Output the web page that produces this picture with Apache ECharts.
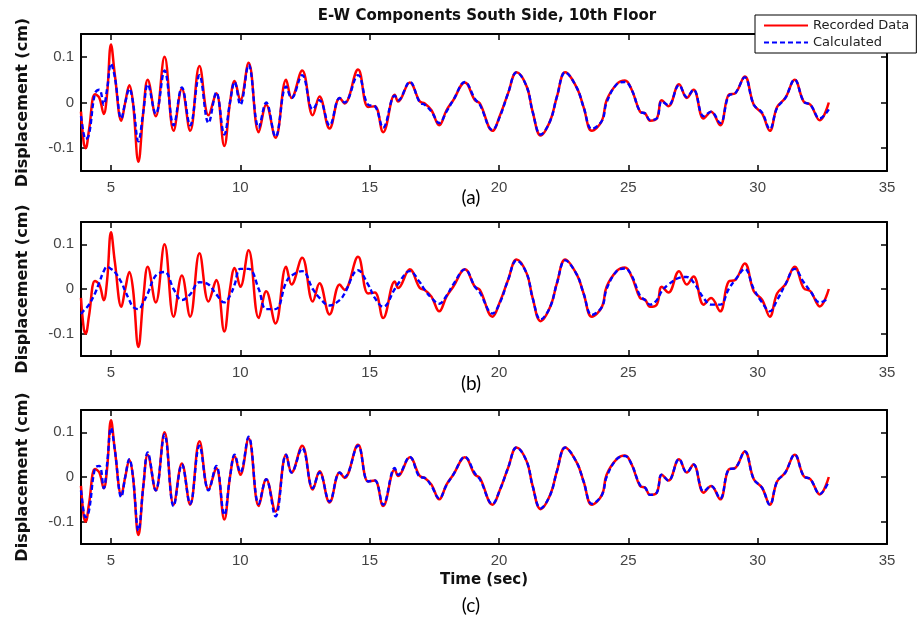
<!DOCTYPE html>
<html><head><meta charset="utf-8">
<script src="https://cdn.jsdelivr.net/npm/echarts@6/dist/echarts.min.js"></script>
<style>html,body{margin:0;background:#fff}#c{width:919px;height:621px}</style>
</head><body><div id="c"></div>
<script>
const timeSec = [
 3.84,3.95,4.02,4.15,4.38,4.55,4.72,4.85,5.0,5.15,
 5.4,5.55,5.71,5.85,6.06,6.25,6.42,6.73,7.07,7.42,
 7.74,8.06,8.42,8.77,9.07,9.38,9.6,9.78,10.0,10.32,
 10.71,11.0,11.36,11.77,11.98,12.39,12.8,13.06,13.45,13.84,
 14.03,14.55,14.94,15.2,15.52,15.97,16.1,16.55,16.94,17.13,
 17.39,17.69,17.97,18.23,18.68,19.07,19.26,19.75,20.04,20.35,
 20.68,21.07,21.3,21.61,21.98,22.24,22.56,23.01,23.27,23.59,
 23.98,24.16,24.55,24.87,25.13,25.45,25.65,25.84,26.1,26.29,
 26.55,26.96,27.26,27.52,27.91,28.2,28.55,28.88,29.13,29.5,
 29.85,30.17,30.47,30.75,31.07,31.43,31.78,32.04,32.4,32.75];
const recorded = [
 -0.02,-0.09,-0.10,-0.06,0.018,0.01,-0.025,0.02,0.127,0.06,
 -0.04,0.0,0.038,0.0,-0.13,-0.02,0.05,-0.03,0.10,-0.062,
 0.03,-0.062,0.08,-0.028,0.02,-0.095,0.0,0.047,0.005,0.087,
 -0.065,-0.005,-0.077,0.05,0.01,0.07,-0.028,0.013,-0.057,0.01,
 -0.002,0.072,-0.01,-0.008,-0.065,0.017,0.002,0.044,0.002,-0.002,
 -0.017,-0.05,-0.017,0.005,0.044,0.005,-0.002,-0.062,-0.028,0.02,
 0.066,0.035,-0.02,-0.072,-0.04,0.013,0.066,0.032,-0.01,-0.062,
 -0.04,0.005,0.04,0.048,0.028,-0.02,-0.024,-0.04,-0.035,0.005,
 -0.008,0.04,0.01,0.028,-0.035,-0.02,-0.05,0.017,0.02,0.057,
 -0.005,-0.024,-0.062,-0.01,0.01,0.05,0.002,-0.005,-0.039,0.0];
const calcA = [
 -0.03,-0.07,-0.08,-0.07,0.02,0.028,-0.005,0.03,0.085,0.055,
 -0.035,0.0,0.03,0.0,-0.085,-0.02,0.04,-0.025,0.07,-0.05,
 0.033,-0.05,0.06,-0.045,0.022,-0.07,0.0,0.045,-0.005,0.082,
 -0.055,0.0,-0.075,0.035,0.01,0.06,-0.015,0.005,-0.05,0.01,
 0.0,0.06,-0.005,-0.008,-0.055,0.015,0.005,0.045,0.0,-0.005,
 -0.02,-0.045,-0.02,0.005,0.045,0.008,-0.005,-0.06,-0.03,0.02,
 0.066,0.035,-0.02,-0.07,-0.04,0.013,0.066,0.032,-0.01,-0.058,
 -0.04,0.0,0.04,0.045,0.028,-0.02,-0.024,-0.038,-0.035,0.003,
 -0.006,0.038,0.012,0.028,-0.03,-0.02,-0.045,0.015,0.02,0.055,
 -0.005,-0.022,-0.058,-0.012,0.01,0.05,0.002,-0.005,-0.035,-0.015];
const calcB = [
 -0.056,-0.048,-0.044,-0.035,-0.01,0.015,0.04,0.05,0.045,0.038,
 0.015,-0.005,-0.025,-0.04,-0.045,-0.03,-0.01,0.03,0.038,0.0,
 -0.025,-0.012,0.015,0.01,-0.012,-0.03,-0.015,0.01,0.045,0.045,
 0.0,-0.045,-0.045,0.015,0.03,0.04,0.0,-0.02,-0.037,-0.025,
 -0.01,0.042,0.01,-0.02,-0.04,0.0,0.012,0.04,0.015,-0.002,
 -0.02,-0.033,-0.015,0.01,0.044,0.005,-0.008,-0.055,-0.03,0.02,
 0.064,0.035,-0.02,-0.068,-0.04,0.013,0.064,0.032,-0.01,-0.058,
 -0.04,0.0,0.04,0.046,0.03,-0.015,-0.025,-0.035,-0.025,-0.005,
 0.01,0.025,0.027,0.015,-0.02,-0.035,-0.035,0.0,0.02,0.045,
 0.0,-0.03,-0.05,-0.025,0.01,0.045,0.015,-0.005,-0.03,-0.02];
const calcC = [
 -0.03,-0.08,-0.09,-0.075,0.02,0.025,-0.025,0.03,0.11,0.06,
 -0.045,0.0,0.04,0.0,-0.12,-0.02,0.055,-0.03,0.095,-0.065,
 0.028,-0.06,0.07,-0.03,0.025,-0.085,0.0,0.05,0.01,0.09,
 -0.06,-0.005,-0.088,0.05,0.01,0.065,-0.025,0.01,-0.055,0.01,
 0.0,0.07,-0.01,-0.008,-0.062,0.02,0.005,0.045,0.0,-0.002,
 -0.02,-0.048,-0.018,0.005,0.045,0.008,-0.005,-0.06,-0.028,0.02,
 0.066,0.035,-0.02,-0.07,-0.04,0.013,0.066,0.032,-0.01,-0.06,
 -0.04,0.0,0.04,0.047,0.028,-0.018,-0.024,-0.04,-0.035,0.005,
 -0.008,0.04,0.01,0.028,-0.032,-0.02,-0.048,0.017,0.02,0.057,
 -0.005,-0.024,-0.062,-0.01,0.01,0.05,0.002,-0.005,-0.038,-0.01];
const xTicks = [5,10,15,20,25,30,35];
const yTicks = [-0.1,0,0.1];
const panelLabels = ['(a)','(b)','(c)'];
const seriesNames = ['Recorded Data','Calculated'];
const chartTitle = 'E-W Components South Side, 10th Floor';

const calcs = [calcA, calcB, calcC];
const gridBoxes = [
  {left:81, top:34, width:806, height:137},
  {left:81, top:222, width:806, height:134},
  {left:81, top:410, width:806, height:134}];
const labelTops = [183, 369, 591];
const zip = (xs, ys) => xs.map((x, k) => [x, ys[k]]);
const lineAx = {show:true, onZero:false, lineStyle:{color:'#000', width:2}};
const tickSt = {color:'#000', width:1.5};
const labSt = {color:'#444', fontSize:15, fontFamily:'Liberation Sans'};
const xNameSt = {fontWeight:'bold', fontSize:15, color:'#111', fontFamily:'DejaVu Sans'};
const yNameSt = {fontWeight:'bold', fontSize:16, color:'#111', fontFamily:'DejaVu Sans'};

const xAxis = [], yAxis = [], series = [];
gridBoxes.forEach((g, i) => {
  xAxis.push({gridIndex:i, type:'value', min:3.84, max:35, position:'bottom',
    axisLine:lineAx, splitLine:{show:false},
    axisTick:{show:true, inside:true, length:6, customValues:xTicks, lineStyle:tickSt},
    axisLabel:Object.assign({customValues:xTicks, margin:9}, labSt),
    name: i === 2 ? 'Time (sec)' : '', nameLocation:'middle', nameGap:29,
    nameTextStyle:xNameSt});
  xAxis.push({gridIndex:i, type:'value', min:3.84, max:35, position:'top',
    axisLine:lineAx, splitLine:{show:false},
    axisTick:{show:true, inside:true, length:6, customValues:xTicks, lineStyle:tickSt},
    axisLabel:{show:false}});
  yAxis.push({gridIndex:i, type:'value', min:-0.15, max:0.15, position:'left',
    axisLine:lineAx, splitLine:{show:false},
    axisTick:{show:true, inside:true, length:6, customValues:yTicks, lineStyle:tickSt},
    axisLabel:Object.assign({customValues:yTicks, margin:7, formatter:v => String(v)}, labSt),
    name:'Displacement (cm)', nameLocation:'middle', nameGap:50,
    nameTextStyle:yNameSt});
  yAxis.push({gridIndex:i, type:'value', min:-0.15, max:0.15, position:'right',
    axisLine:lineAx, splitLine:{show:false},
    axisTick:{show:true, inside:true, length:6, customValues:yTicks, lineStyle:tickSt},
    axisLabel:{show:false}});
  series.push({type:'line', name:seriesNames[0], xAxisIndex:2*i, yAxisIndex:2*i,
    data:zip(timeSec, recorded), symbol:'none', smooth:0.4, z:2,
    lineStyle:{color:'#ff0000', width:2.5}, itemStyle:{color:'#ff0000'}});
  series.push({type:'line', name:seriesNames[1], xAxisIndex:2*i, yAxisIndex:2*i,
    data:zip(timeSec, calcs[i]), symbol:'none', smooth:0.4, z:3,
    lineStyle:{color:'#0000ff', width:2.4, type:[5,3]}, itemStyle:{color:'#0000ff'}});
});

const titles = [{text:chartTitle, left:482, top:4, textAlign:'center',
  textStyle:{fontSize:15, fontWeight:'bold', color:'#111', fontFamily:'DejaVu Sans'}}];
panelLabels.forEach((p, i) => titles.push({text:p, left:466, top:labelTops[i], textAlign:'center',
  textStyle:{fontSize:19, fontWeight:'normal', color:'#000', fontFamily:'Lato'}}));

const chart = echarts.init(document.getElementById('c'), null, {renderer:'canvas'});
chart.setOption({
  animation:false,
  backgroundColor:'#fff',
  title:titles,
  legend:{data:seriesNames, left:755, top:15, orient:'vertical', itemWidth:44, itemHeight:13,
    itemGap:4, padding:[4,7,4,8], borderColor:'#000', borderWidth:1, backgroundColor:'#fff',
    itemStyle:{opacity:0},
    textStyle:{fontSize:13, color:'#222', fontFamily:'DejaVu Sans'}, z:10},
  grid:gridBoxes,
  xAxis:xAxis, yAxis:yAxis, series:series
});
</script></body></html>
